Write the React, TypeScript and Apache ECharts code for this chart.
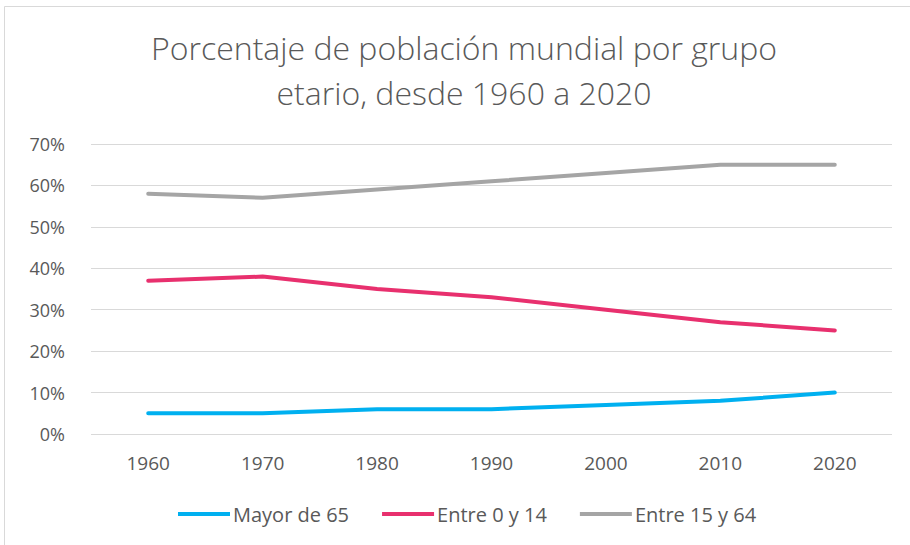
import React, { useEffect, useRef } from "react";
import * as echarts from "echarts";

const years = ["1960", "1970", "1980", "1990", "2000", "2010", "2020"];
const mayor65 = [5, 5, 6, 6, 7, 8, 10];
const entre0y14 = [37, 38, 35, 33, 30, 27, 25];
const entre15y64 = [58, 57, 59, 61, 63, 65, 65];
const titleText = "Porcentaje de población mundial por grupo\netario, desde 1960 a 2020";

const FONT = "'Open Sans', 'Noto Sans', sans-serif";
const TXT = "#595959";

export default function App() {
  const ref = useRef<HTMLDivElement>(null);
  useEffect(() => {
    if (!ref.current) return;
    const chart = echarts.init(ref.current, undefined, { renderer: "svg" });
    chart.setOption({
      animation: false,
      backgroundColor: "#ffffff",
      graphic: [
        {
          type: "rect",
          shape: { x: 4.5, y: 6.5, width: 920, height: 560 },
          style: { fill: "none", stroke: "#D9D9D9", lineWidth: 1 },
          silent: true,
        },
      ],
      title: {
        text: titleText,
        left: 459,
        textAlign: "center",
        top: 20,
        textStyle: {
          fontFamily: FONT,
          fontSize: 32,
          fontWeight: 300,
          color: TXT,
          lineHeight: 45,
        },
      },
      legend: {
        bottom: 16,
        left: 173,
        itemWidth: 52,
        itemHeight: 4,
        itemGap: 33,
        icon: "rect",
        textStyle: { fontFamily: FONT, fontSize: 20, color: TXT, padding: [0, 0, 0, -2] },
        data: ["Mayor de 65", "Entre 0 y 14", "Entre 15 y 64"],
      },
      grid: { left: 91, right: 18, top: 144, bottom: 111, containLabel: false },
      xAxis: {
        type: "category",
        data: years,
        boundaryGap: true,
        axisLine: { show: false },
        axisTick: { show: false },
        axisLabel: { color: TXT, fontFamily: FONT, fontSize: 19, margin: 19 },
      },
      yAxis: {
        type: "value",
        min: 0,
        max: 70,
        interval: 10,
        axisLine: { show: false },
        axisTick: { show: false },
        axisLabel: {
          color: TXT,
          fontFamily: FONT,
          fontSize: 18,
          margin: 26,
          formatter: (v: number) => `${v}%`,
        },
        splitLine: { lineStyle: { color: "#D9D9D9", width: 1 } },
      },
      series: [
        {
          name: "Mayor de 65",
          type: "line",
          data: mayor65,
          symbol: "none",
          color: "#00B0F0",
          lineStyle: { width: 4, color: "#00B0F0", cap: "round", join: "round" },
        },
        {
          name: "Entre 0 y 14",
          type: "line",
          data: entre0y14,
          symbol: "none",
          color: "#E8306E",
          lineStyle: { width: 4, color: "#E8306E", cap: "round", join: "round" },
        },
        {
          name: "Entre 15 y 64",
          type: "line",
          data: entre15y64,
          symbol: "none",
          color: "#A5A5A5",
          lineStyle: { width: 4, color: "#A5A5A5", cap: "round", join: "round" },
        },
      ],
    });
    return () => chart.dispose();
  }, []);
  return (
    <div
      ref={ref}
      style={{ position: "fixed", left: 0, top: 0, width: 910, height: 545 }}
    />
  );
}
